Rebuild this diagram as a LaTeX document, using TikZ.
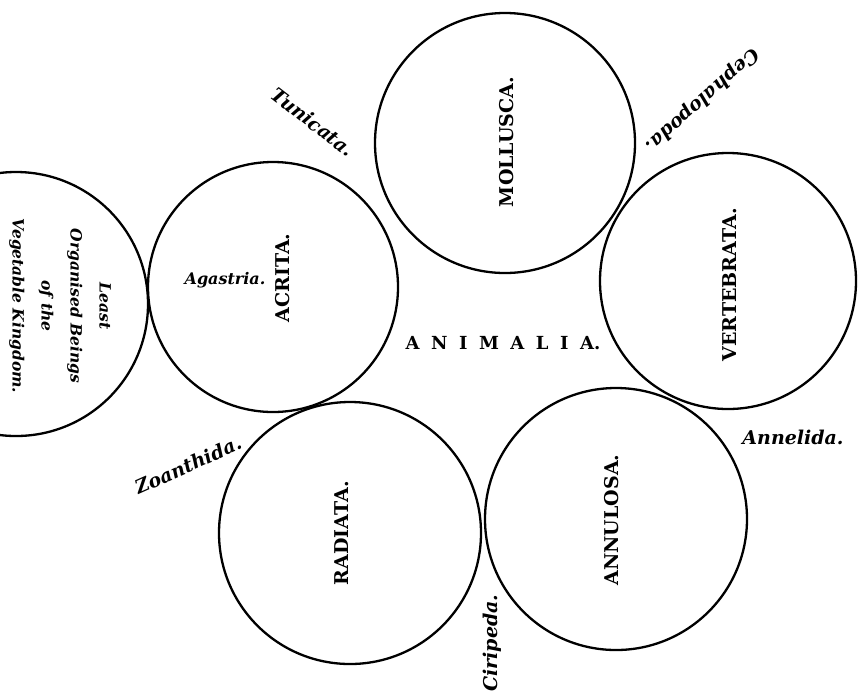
\documentclass[tikz,border=0pt]{standalone}
\usepackage{fontspec}
\setmainfont{DejaVu Serif}
\begin{document}
\begin{tikzpicture}[x=1pt,y=-1pt,
  ring/.style={circle,draw,line width=2.3pt,inner sep=0pt},
  capl/.style={font=\bfseries\fontsize{19}{19}\selectfont, rotate=90, inner sep=0pt},
  itl/.style={font=\bfseries\itshape\fontsize{19}{19}\selectfont, inner sep=0pt},
]
\useasboundingbox (0,0) rectangle (858,694);
\clip (0,0) rectangle (858,694);
% circles
\node[ring,minimum size=264pt] (veg) at (16,304) {};
\node[ring,minimum size=250pt] (acrita) at (273,287) {};
\node[ring,minimum size=260pt] (mollusca) at (505,143) {};
\node[ring,minimum size=256pt] (vertebrata) at (728,281) {};
\node[ring,minimum size=262pt] (annulosa) at (616,519) {};
\node[ring,minimum size=262pt] (radiata) at (350,533) {};
% group names
\node[capl] (tacrita) at (283,278) {ACRITA.};
\node[capl] (tmollusca) at (507,142) {MOLLUSCA.};
\node[capl] (tvert) at (730,285) {VERTEBRATA.};
\node[capl] (tann) at (612,520) {ANNULOSA.};
\node[capl] (trad) at (342,533) {RADIATA.};
\node[font=\bfseries\fontsize{18}{18}\selectfont, inner sep=0pt] (animalia) at (503,343)
  {A\hspace{11.5pt}N\hspace{11.5pt}I\hspace{11.5pt}M\hspace{11.5pt}A\hspace{11.5pt}L\hspace{11.5pt}I\hspace{11.5pt}A.};
\node[font=\bfseries\itshape\fontsize{16}{16}\selectfont, inner sep=0pt] (agastria) at (225,280) {Agastria.};
% osculant groups
\node[itl,rotate=-37.6] (tunicata) at (313,122) {Tunicata.};
\node[itl,rotate=222] (ceph) at (702,100) {Cephalopoda.};
\node[itl,rotate=24.2] (zoan) at (188,465) {Zoanthida.};
\node[itl] (annelida) at (793,437) {Annelida.};
\node[itl,rotate=90] (cirip) at (492,643) {Ciripeda.};
% vegetable kingdom
\node[font=\bfseries\itshape\fontsize{15.5}{29}\selectfont, rotate=-90, align=center, inner sep=0pt] (vegtext) at (60,306)
  {Least\\Organised Beings\\of the\\Vegetable Kingdom.};
\end{tikzpicture}
\end{document}
